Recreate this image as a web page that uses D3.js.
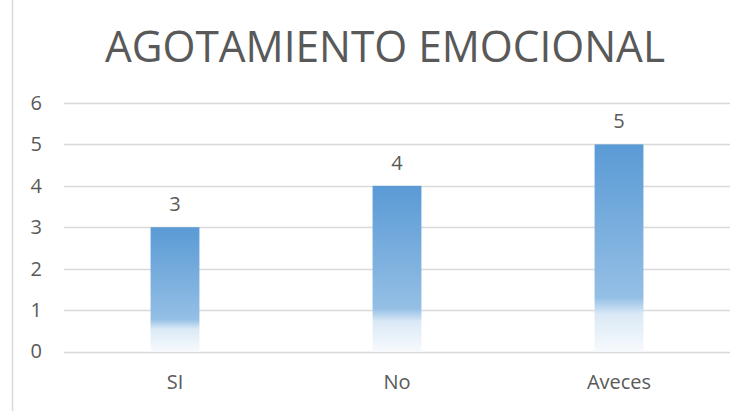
<!DOCTYPE html>
<html>
<head>
<meta charset="utf-8">
<script src="https://cdn.jsdelivr.net/npm/d3@7"></script>
<style>
  body { margin: 0; background: #fff; }
  text { font-family: "Open Sans", "Noto Sans", sans-serif; fill: #595959; }
</style>
</head>
<body>
<svg class="svg-chart" width="747" height="411"></svg>
<script>
const categories = ['SI', 'No', 'Aveces'];
const values = [3, 4, 5];
const yTicks = [0, 1, 2, 3, 4, 5, 6];
const title = 'AGOTAMIENTO EMOCIONAL';

const svg = d3.select('.svg-chart');
const margin = { top: 103, right: 17, bottom: 59.5, left: 64 };
const width = +svg.attr('width') - margin.left - margin.right;
const height = +svg.attr('height') - margin.top - margin.bottom;

// chart border, cropped on the left side
svg.append('line')
  .attr('x1', 12.5).attr('x2', 12.5)
  .attr('y1', 0).attr('y2', 411)
  .attr('stroke', '#d9d9d9')
  .attr('stroke-width', 1.5);

const grad = svg.append('defs')
  .append('linearGradient')
  .attr('id', 'barFill')
  .attr('x1', 0).attr('y1', 0)
  .attr('x2', 0).attr('y2', 1);
grad.append('stop').attr('offset', '0%').attr('stop-color', '#5a9ad5');
grad.append('stop').attr('offset', '74%').attr('stop-color', '#94bfe5');
grad.append('stop').attr('offset', '82%').attr('stop-color', '#dbe9f6');
grad.append('stop').attr('offset', '100%').attr('stop-color', '#f7fafd');

svg.append('text')
  .attr('x', 385)
  .attr('y', 62)
  .attr('text-anchor', 'middle')
  .attr('font-size', 44)
  .attr('textLength', 560)
  .attr('lengthAdjust', 'spacingAndGlyphs')
  .text(title);

const g = svg.append('g')
  .attr('transform', 'translate(' + margin.left + ',' + margin.top + ')');

const x = d3.scaleBand().domain(categories).range([0, width]).padding(0);
const y = d3.scaleLinear().domain([0, 6]).range([height, 0]);
const barWidth = x.bandwidth() * 0.22;

g.append('g')
  .attr('class', 'grid')
  .selectAll('line')
  .data(yTicks)
  .join('line')
  .attr('x1', 0)
  .attr('x2', width)
  .attr('y1', d => Math.round(y(d)) + 0.5)
  .attr('y2', d => Math.round(y(d)) + 0.5)
  .attr('stroke', '#d9d9d9')
  .attr('stroke-width', 1.5);

const yAxis = d3.axisLeft(y)
  .tickValues(yTicks)
  .tickFormat(d3.format('d'))
  .tickSize(0)
  .tickPadding(22);
g.append('g')
  .attr('class', 'axis axis--y')
  .call(yAxis)
  .call(a => a.select('.domain').remove())
  .selectAll('text')
  .attr('font-size', 20)
  .style('font-family', '"Open Sans", sans-serif')
  .attr('fill', '#595959');

const xAxis = d3.axisBottom(x).tickSize(0).tickPadding(23);
g.append('g')
  .attr('class', 'axis axis--x')
  .attr('transform', 'translate(0,' + height + ')')
  .call(xAxis)
  .call(a => a.select('.domain').remove())
  .selectAll('text')
  .attr('font-size', 20)
  .style('font-family', '"Open Sans", sans-serif')
  .attr('fill', '#595959');

g.selectAll('.bar')
  .data(values)
  .join('rect')
  .attr('class', 'bar')
  .attr('x', (d, i) => x(categories[i]) + (x.bandwidth() - barWidth) / 2)
  .attr('y', d => y(d))
  .attr('width', barWidth)
  .attr('height', d => height - y(d))
  .attr('fill', 'url(#barFill)');

g.selectAll('.label')
  .data(values)
  .join('text')
  .attr('class', 'label')
  .attr('x', (d, i) => x(categories[i]) + x.bandwidth() / 2)
  .attr('y', d => y(d) - 16)
  .attr('text-anchor', 'middle')
  .attr('font-size', 20)
  .text(d => d);
</script>
</body>
</html>
